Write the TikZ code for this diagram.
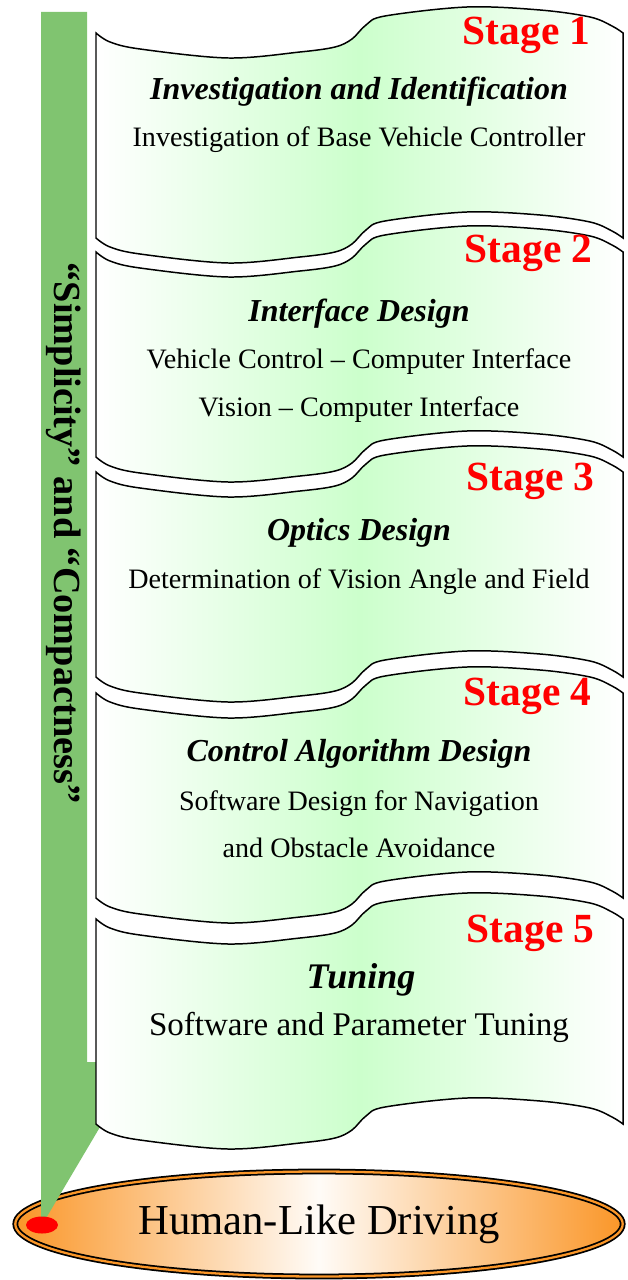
\documentclass[tikz,border=0pt]{standalone}
\usepackage{xcolor}
\usepackage{fontspec}
\setmainfont{Liberation Serif}
\usepackage{tikz}
\usetikzlibrary{shapes}

\definecolor{sheetgreen}{RGB}{204,255,204}
\definecolor{bargreen}{RGB}{128,196,112}
\definecolor{goalorange}{RGB}{250,150,40}

\tikzset{
	sheet/.style={
		draw=black, line width=0.85pt,
		left color=white, right color=white,
		middle color=sheetgreen
	},
	% one wavy sheet, top-left corner at the origin
	stage sheet/.pic={
		\shade[sheet] plot[smooth, tension=0.55] coordinates {
			(96,0) (110,9) (140,16) (228,25) (300,19) (335,14) (352,6)
			(366,-8) (385,-17) (467,-26) (540,-23) (590,-16) (612,-7) (623,0)}
		-- plot[smooth, tension=0.55] coordinates {
			(623,205) (612,198) (590,189) (540,182) (467,179) (385,188)
			(366,197) (352,211) (335,219) (300,224) (228,230) (140,221)
			(110,214) (96,205)}
		-- cycle;
	},
	stagelabel/.style={anchor=base east, text=red, font=\fontsize{23.6}{27}\selectfont\bfseries, inner sep=0pt},
	stagetitle/.style={anchor=base, font=\fontsize{18.2}{21}\selectfont\bfseries\itshape, inner sep=0pt},
	stagetext/.style={anchor=base, font=\fontsize{16}{19}\selectfont, inner sep=0pt}
}

\begin{document}
\begin{tikzpicture}[x=0.02cm, y=-0.02cm]
\useasboundingbox (0,0) rectangle (627,1280);

% goal at the bottom
\node[ellipse, draw=black, double=goalorange, double distance=1.3pt, line width=1pt,
	left color=goalorange, right color=goalorange, middle color=orange!3,
	minimum width=12.15cm, minimum height=2.1cm, inner sep=0pt,
	font=\fontsize{24.3}{28}\selectfont] (goal) at (319,1224) {Human-Like Driving};

% callout bar with its tip on the goal
\coordinate (tip) at (42,1225);
\fill[bargreen] (41,12) -- (87,12) -- (87,1062) -- (100,1062) -- (100,1127) -- (tip) -- (41,1225) -- cycle;
\node[ellipse, fill=red, minimum width=0.64cm, minimum height=0.34cm, inner sep=0pt] (dot) at (tip) {};
\node[rotate=-90, font=\fontsize{21.8}{25}\selectfont\bfseries, inner sep=0pt] (motto) at (64,533)
	{``Simplicity'' and ``Compactness''};

% the five stages
\foreach \y in {33,252,472,693,919}
	\pic at (0,\y) {stage sheet};

\node[stagelabel] (s1) at (591,45) {Stage 1};
\node[stagetitle] (t1) at (359,100) {Investigation and Identification};
\node[stagetext] (b1) at (359,147) {Investigation of Base Vehicle Controller};

\node[stagelabel] (s2) at (593,263) {Stage 2};
\node[stagetitle] (t2) at (359,321) {Interface Design};
\node[stagetext] (b2) at (359,368) {Vehicle Control -- Computer Interface};
\node[stagetext] (c2) at (359,416) {Vision -- Computer Interface};

\node[stagelabel] (s3) at (595,490) {Stage 3};
\node[stagetitle] (t3) at (359,540) {Optics Design};
\node[stagetext] (b3) at (359,588) {Determination of Vision Angle and Field};

\node[stagelabel] (s4) at (592,705) {Stage 4};
\node[stagetitle] (t4) at (359,761) {Control Algorithm Design};
\node[stagetext] (b4) at (359,810) {Software Design for Navigation};
\node[stagetext] (c4) at (359,857) {and Obstacle Avoidance};

\node[stagelabel] (s5) at (595,942) {Stage 5};
\node[stagetitle, font=\fontsize{20.5}{24}\selectfont\bfseries\itshape] (t5) at (361,988) {Tuning};
\node[stagetext, font=\fontsize{18.8}{22}\selectfont] (b5) at (359,1035) {Software and Parameter Tuning};
\end{tikzpicture}
\end{document}
